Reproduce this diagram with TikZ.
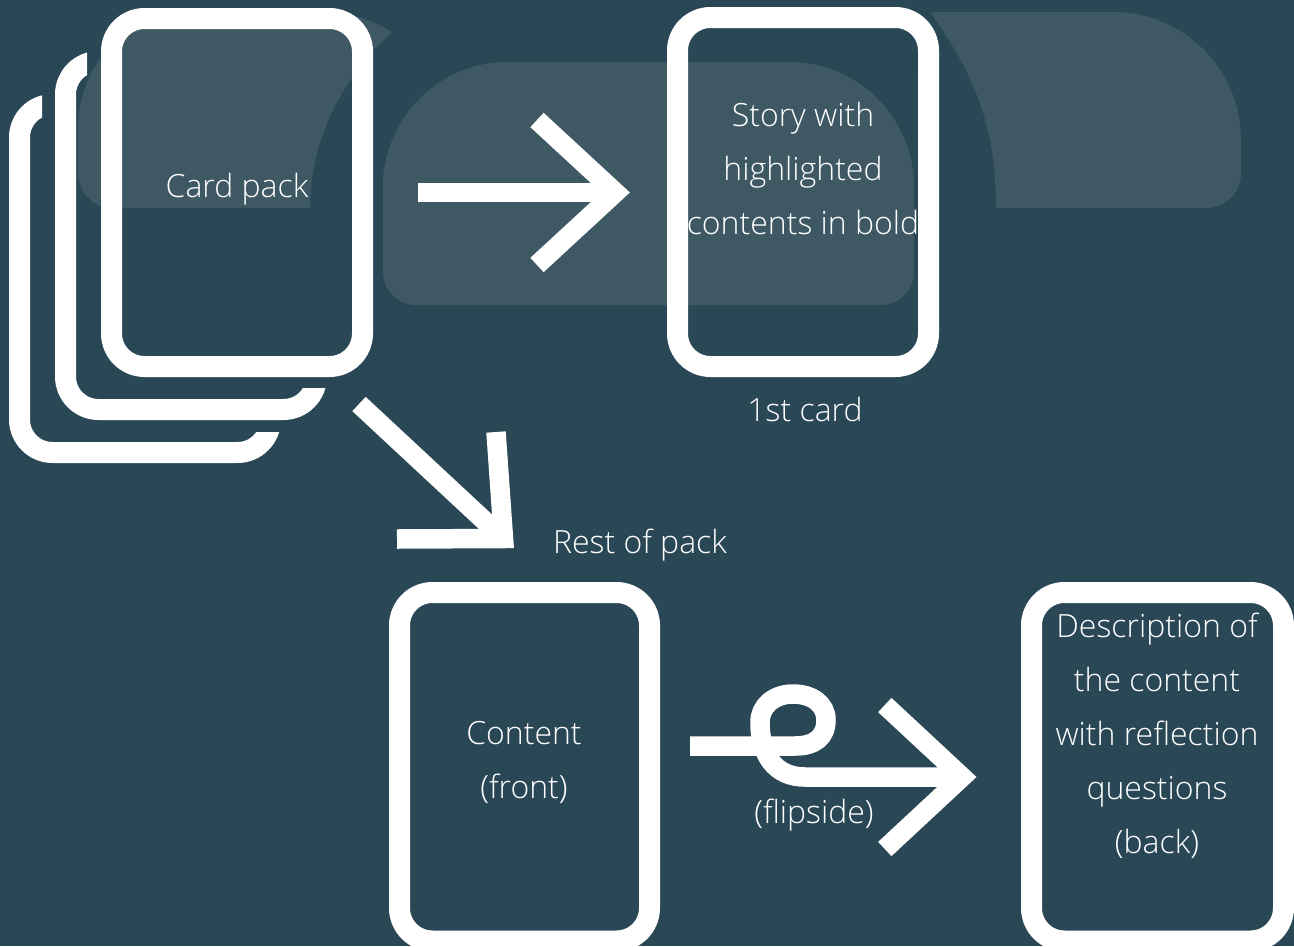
\documentclass[tikz,border=0pt]{standalone}
\usepackage{fontspec}
\IfFontExistsTF{Open Sans Light}
  {\setmainfont{Open Sans Light}\def\cardsize{32}}
  {\setmainfont{Open Sans}\def\cardsize{31}}
\definecolor{bg}{RGB}{42,71,86}
\definecolor{lite}{RGB}{63,89,100}
\newcommand\cardtextfont{\fontsize{\cardsize}{54}\selectfont\lineskiplimit=-100pt\relax}
\tikzset{
  cardbox/.style={draw=white, line width=21pt, rounded corners=33pt, rectangle,
    inner sep=0pt, minimum width=251pt, minimum height=348pt},
  arr/.style={draw=white, line width=19.5pt, line cap=butt, line join=miter, miter limit=10},
  txt/.style={text=white, font=\cardtextfont, align=center, inner sep=0pt}
}
\begin{document}
\begin{tikzpicture}[x=1pt,y=-1pt]
\useasboundingbox (0,0) rectangle (1294,946);
\clip (0,0) rectangle (1294,946);
\fill[bg] (0,0) rectangle (1294,946);
% light background shapes
\fill[lite] (78,173) -- (78,127) .. controls (78,63.5) and (129.5,12) .. (193,12)
  -- (323,12) .. controls (347.4,12) and (371.2,18.9) .. (391.8,32)
  .. controls (348,73) and (310,133) .. (310,208)
  -- (113,208) .. controls (93.7,208) and (78,192.3) .. (78,173) -- cycle;
\fill[lite] (383,200) [rounded corners=125pt] -- (383,62) -- (914,62) -- (914,200)
  [rounded corners=33pt] -- (914,305) -- (383,305) -- cycle;
\fill[lite] (996,208) -- (1206,208) .. controls (1225.3,208) and (1241,192.3) .. (1241,173)
  -- (1241,140) .. controls (1241,69.3) and (1183.7,12) .. (1113,12)
  -- (930,12) .. controls (976,76) and (996,128) .. (996,208) -- cycle;
% card pack
\begin{scope}
  \clip (0,0) -- (42,0) -- (42,432) -- (1294,432) -- (1294,946) -- (0,946) -- cycle;
  \node[cardbox] (back) at (145,278.5) {};
\end{scope}
\begin{scope}
  \clip (0,0) -- (87,0) -- (87,388) -- (1294,388) -- (1294,946) -- (0,946) -- cycle;
  \node[cardbox] (middle) at (191,235.5) {};
\end{scope}
\node[cardbox] (front) at (237,192.5) {};
\node[cardbox, minimum height=349pt] (first) at (803,192) {};
\node[cardbox, minimum width=250pt, minimum height=348.5pt] (content) at (524.5,766.75) {};
\node[cardbox, minimum width=252pt, minimum height=348.5pt] (desc) at (1157.5,766.75) {};
% arrow: pack -> first card
\coordinate (a1s) at (418,192.5);
\coordinate (a1t) at (615.5,192.5);
\coordinate (a1u) at (537,120);
\coordinate (a1d) at (537,265);
\draw[arr] (a1s) -- (a1t);
\draw[arr] (a1u) -- (a1t) -- (a1d);
% arrow: pack -> rest
\coordinate (a2s) at (359,404);
\coordinate (a2t) at (503.5,538.5);
\coordinate (a2u) at (496,432);
\coordinate (a2l) at (397,539);
\draw[arr] (a2s) -- (a2t);
\draw[arr] (a2u) -- (a2t) -- (a2l);
% flip arrow
\coordinate (a3s) at (690,746);
\coordinate (a3t) at (962.2,777);
\coordinate (a3u) at (884.8,705);
\coordinate (a3d) at (884.8,849);
\draw[arr] (a3s) -- (795,746) .. controls (815,746) and (826,737) .. (826,720)
  .. controls (826,704) and (812,694) .. (793,694)
  .. controls (774,694) and (760,706) .. (760,722)
  .. controls (760,755) and (775,777) .. (805,777) -- (a3t);
\draw[arr] (a3u) -- (a3t) -- (a3d);
% texts
\node[txt, anchor=base] (tpack) at (237,197) {Card pack};
\node[txt] (tfirst) at (803,169.7) {\strut Story with\\\strut highlighted\\\strut contents in bold};
\node[txt, anchor=base] (t1st) at (805,421) {1st card};
\node[txt, anchor=base] (trest) at (640,553) {Rest of pack};
\node[txt] (tcontent) at (524,760.2) {\strut Content\\\strut (front)};
\node[txt, anchor=base] (tflip) at (814,823) {(flipside)};
\node[txt] (tdesc) at (1157,734.2) {\strut Description of\\\strut the content\\\strut with reflection\\\strut questions\\\strut (back)};
\end{tikzpicture}
\end{document}
